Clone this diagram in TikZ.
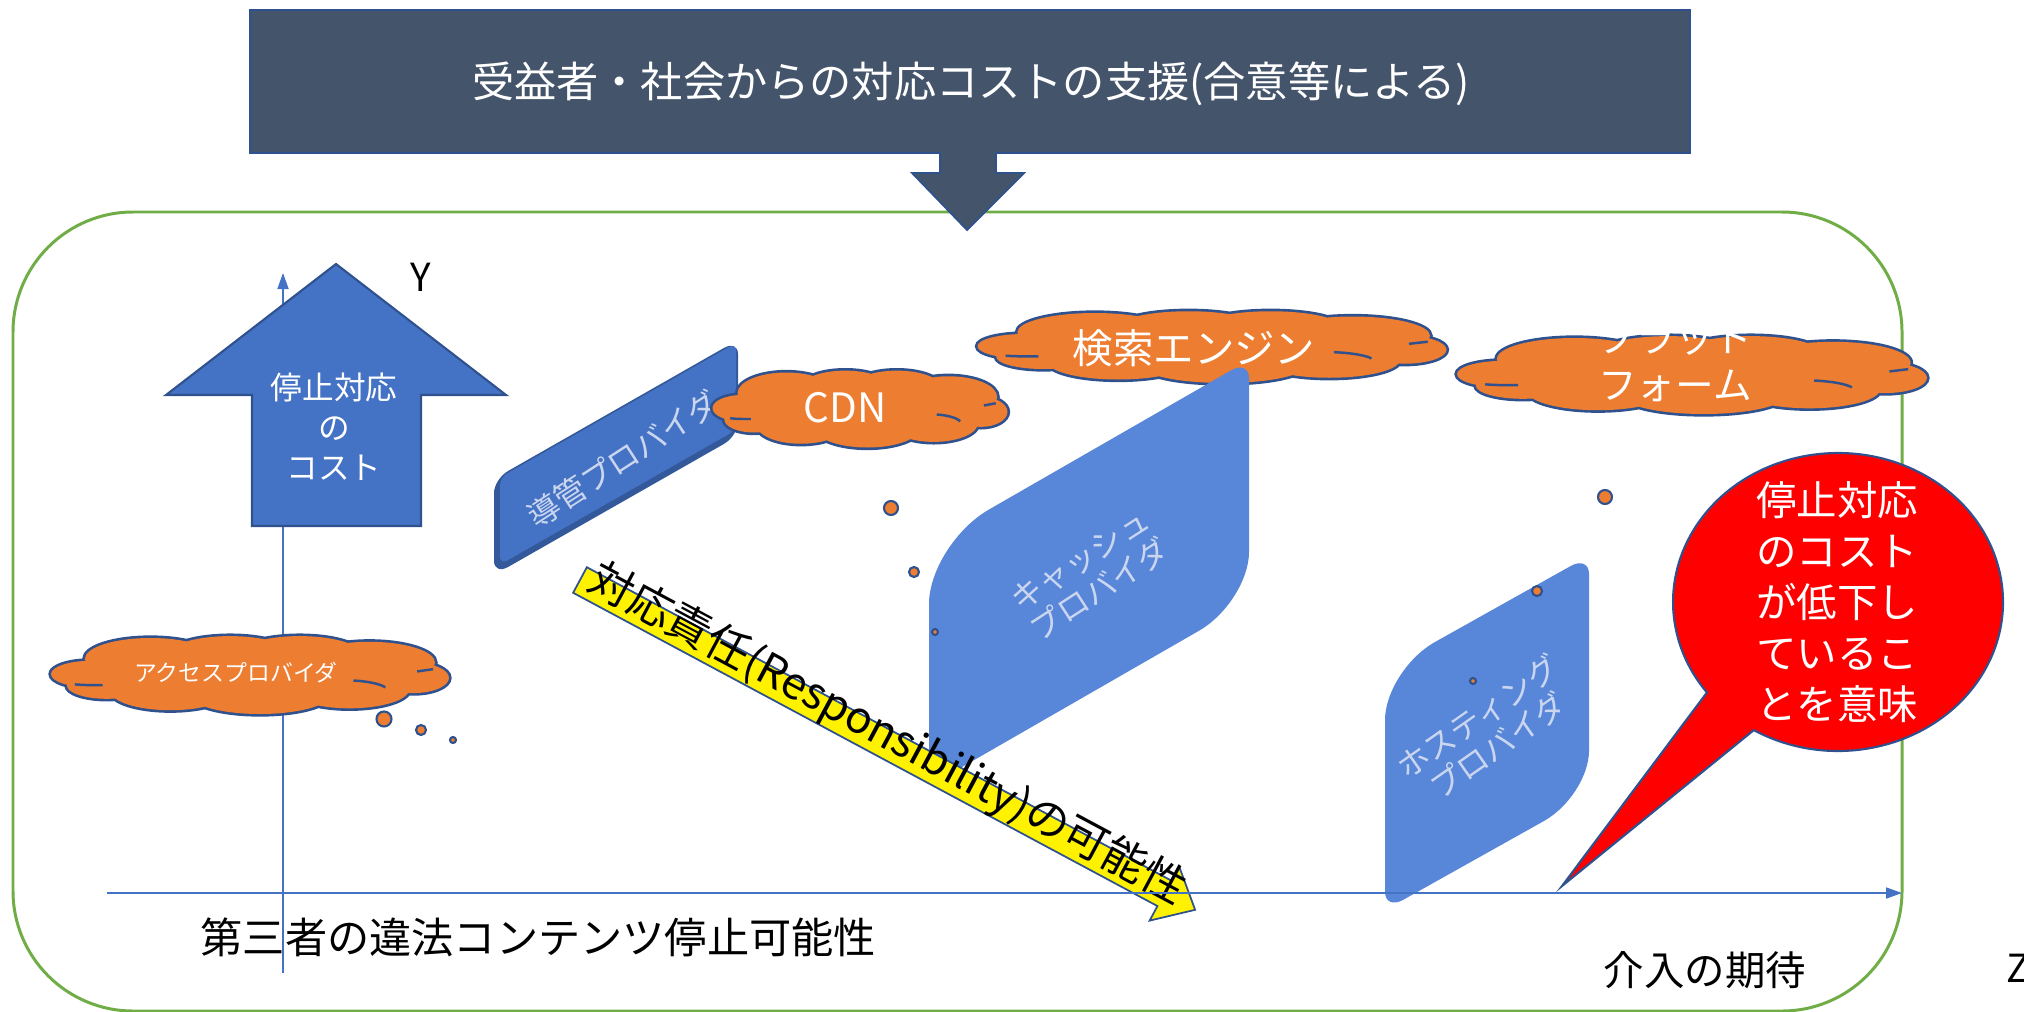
\documentclass[tikz,border=0pt]{standalone}
\usepackage{fontspec}
\newfontfamily\jp{Noto Sans CJK JP}
\usetikzlibrary{arrows.meta}
\definecolor{titlebg}{HTML}{44546A}
\definecolor{edgeblue}{HTML}{2F528F}
\definecolor{accblue}{HTML}{4472C4}
\definecolor{panelblue}{HTML}{5886D9}
\definecolor{conduitdark}{HTML}{34599B}
\definecolor{cloudorange}{HTML}{ED7D31}
\definecolor{framegreen}{HTML}{70AD47}
\definecolor{paneltext}{HTML}{CAD6EF}
\newcommand\jfs[2]{\jp\fontsize{#1}{#2}\selectfont}
\newcommand\cloudpuffs{%
 (-0.5,-0.45) ellipse [x radius=0.33,y radius=0.55]
 (-0.1,-0.6) ellipse [x radius=0.3,y radius=0.45]
 (0.25,-0.6) ellipse [x radius=0.3,y radius=0.45]
 (0.6,-0.35) ellipse [x radius=0.33,y radius=0.55]
 (0.82,0.05) ellipse [x radius=0.18,y radius=0.4]
 (0.5,0.35) ellipse [x radius=0.3,y radius=0.5]
 (0.05,0.5) ellipse [x radius=0.35,y radius=0.5]
 (-0.4,0.4) ellipse [x radius=0.3,y radius=0.5]
 (-0.72,0.25) ellipse [x radius=0.2,y radius=0.35]
 (-0.8,-0.05) ellipse [x radius=0.2,y radius=0.35]
 (0,0) ellipse [x radius=0.72,y radius=0.55]}
\newcommand\officecloud[5]{%
 \begin{scope}[shift={(#2,#3)},xscale=#4/2,yscale=#5/2]
 \coordinate (#1) at (0,0);
 \draw[draw=edgeblue,line width=1.5pt] \cloudpuffs;
 \fill[cloudorange] \cloudpuffs;
 \draw[edgeblue,line width=0.7pt] (-0.88,0.22) .. controls (-0.83,0.24) .. (-0.74,0.24);
 \draw[edgeblue,line width=0.7pt] (0.52,0.12) .. controls (0.6,0.14) and (0.66,0.22) .. (0.68,0.3);
 \draw[edgeblue,line width=0.7pt] (0.84,-0.12) -- (0.92,-0.18);
 \end{scope}}
\begin{document}
\begin{tikzpicture}[x=0.01cm,y=-0.01cm,
  edge/.style={draw=edgeblue,line width=0.5pt},
  bubble/.style={circle,fill=cloudorange,draw=edgeblue,line width=0.6pt,inner sep=0pt},
  axisline/.style={draw=accblue,line width=0.5pt,-{Triangle[length=0.16cm,width=0.11cm]}},
  wlabel/.style={text=white,inner sep=0pt,align=center},
  plabel/.style={text=paneltext,inner sep=0pt,align=center},
  blabel/.style={text=black,inner sep=0pt}]
\useasboundingbox (0,0) rectangle (2024,1012);
% frame
\draw[framegreen,line width=0.85pt,rounded corners=1.2cm] (13,212) rectangle (1902,1011);
% title box and arrow
\filldraw[fill=titlebg,draw=edgeblue,line width=0.5pt] (250,10) rectangle (1690,153);
\node[wlabel,font=\jfs{12pt}{14pt}] (title) at (971,84) {受益者・社会からの対応コストの支援(合意等による)};
\fill[titlebg] (940,148) -- (940,173) -- (912,173) -- (967,230) -- (1024,173) -- (996,173) -- (996,148) -- cycle;
\draw[edge] (940,153) -- (940,173) -- (912,173) -- (967,230) -- (1024,173) -- (996,173) -- (996,153);
% Y axis
\coordinate (yfoot) at (283,973);
\coordinate (ytop) at (283,273);
\draw[axisline] (yfoot) -- (ytop);
% up arrow
\filldraw[fill=accblue,draw=edgeblue,line width=0.6pt] (336,264) -- (506,395) -- (421,395) -- (421,526) -- (252,526) -- (252,395) -- (166,395) -- cycle;
\node[wlabel,font=\jfs{9pt}{11.4pt}] (costup) at (334,427) {停止対応\\の\\コスト};
% conduit provider
\begin{scope}[shift={(494,479)},yslant=0.57]
\fill[conduitdark] (0,14) .. controls (0,6.3) and (6.3,0) .. (14,0) -- (230,0) .. controls (237.7,0) and (244,6.3) .. (244,14) -- (244,82) .. controls (244,89.7) and (237.7,96) .. (230,96) -- (14,96) .. controls (6.3,96) and (0,89.7) .. (0,82) -- cycle;
\fill[accblue,rounded corners=0.08cm] (6,2) rectangle (242,89);
\end{scope}
\node[plabel,rotate=33,font=\jfs{9pt}{10pt}] (conduittext) at (623,459) {導管プロバイダ};
% clouds
\officecloud{accesscloud}{250}{676}{398}{76}
\node[wlabel,font=\jfs{6.5pt}{7pt}] (accesstext) at (236,673) {アクセスプロバイダ};
\officecloud{cdncloud}{860}{410}{295}{75}
\node[wlabel,font=\jfs{11.5pt}{13pt}] (cdntext) at (845,408) {CDN};
\officecloud{searchcloud}{1212}{348}{469}{70}
\node[wlabel,font=\jfs{11.5pt}{13pt}] (searchtext) at (1194,348) {検索エンジン};
\officecloud{platcloud}{1692}{376}{470}{76}
\node[wlabel,font=\jfs{11pt}{13.4pt}] (plattext) at (1675,361) {プラット\\フォーム};
% cache provider
\begin{scope}[shift={(929,544)},yslant=0.575]
\fill[panelblue] (0,60) .. controls (0,26.9) and (26.9,0) .. (60,0) -- (302,0) .. controls (311.9,0) and (320,8.1) .. (320,18) -- (320,192) .. controls (320,219.6) and (297.6,242) .. (270,242) -- (18,242) .. controls (8.1,242) and (0,233.9) .. (0,224) -- cycle;
\end{scope}
\node[plabel,rotate=33,font=\jfs{9pt}{10pt}] (cachetext) at (1090,575) {キャッシュ\\プロバイダ};
% hosting provider
\begin{scope}[shift={(1385,670)},yslant=0.56]
\fill[panelblue] (0,50) .. controls (0,22.4) and (22.4,0) .. (50,0) -- (186,0) .. controls (195.9,0) and (204,8.1) .. (204,18) -- (204,195) .. controls (204,219.9) and (183.9,240) .. (159,240) -- (18,240) .. controls (8.1,240) and (0,231.9) .. (0,222) -- cycle;
\end{scope}
\node[plabel,rotate=35,font=\jfs{9pt}{10pt}] (hosttext) at (1488,731) {ホスティング\\プロバイダ};
% thought bubbles
\node[bubble,minimum size=0.15cm] (a1) at (384,719) {};
\node[bubble,minimum size=0.10cm] (a2) at (421,730) {};
\node[bubble,minimum size=0.06cm] (a3) at (453,740) {};
\node[bubble,minimum size=0.14cm] (c1) at (891,508) {};
\node[bubble,minimum size=0.10cm] (c2) at (914,572) {};
\node[bubble,minimum size=0.06cm] (c3) at (935,632) {};
\node[bubble,minimum size=0.14cm] (p1) at (1605,497) {};
\node[bubble,minimum size=0.10cm] (p2) at (1537,591) {};
\node[bubble,minimum size=0.06cm] (p3) at (1473,681) {};
% responsibility arrow
\begin{scope}[shift={(580,580)},rotate=-28.2]
\filldraw[fill=yellow,draw=edgeblue,line width=0.5pt] (0,-14.5) -- (663,-14.5) -- (663,-31) -- (698,0) -- (663,31) -- (663,14.5) -- (0,14.5) -- cycle;
\end{scope}
\node[blabel,rotate=-28.2,font=\jfs{12.5pt}{14pt}] (resptext) at (887,735) {対応責任(Responsibility)の可能性};
% callout
\filldraw[fill=red,draw=edgeblue,line width=0.6pt] (1838,602) ++(120.7:165 and 149) arc[start angle=120.7,end angle=-217.4,x radius=165,y radius=149] -- (1562,886) -- cycle;
\node[wlabel,font=\jfs{11.5pt}{14.5pt}] (callouttext) at (1837,602) {停止対応\\のコスト\\が低下し\\ているこ\\とを意味};
% X axis
\coordinate (xstart) at (107,893);
\coordinate (xend) at (1902,893);
\draw[axisline] (xstart) -- (xend);
% labels
\node[blabel,font=\jfs{11pt}{13pt}] (ylabel) at (421,277) {Y};
\node[blabel,anchor=west,font=\jfs{11pt}{13pt}] (zlabel) at (2006,968) {Z};
\node[blabel,anchor=west,font=\jfs{12pt}{14pt}] (xlabel) at (200,937) {第三者の違法コンテンツ停止可能性};
\node[blabel,font=\jfs{11.5pt}{13pt}] (zaxislabel) at (1705,970) {介入の期待};
\end{tikzpicture}
\end{document}
